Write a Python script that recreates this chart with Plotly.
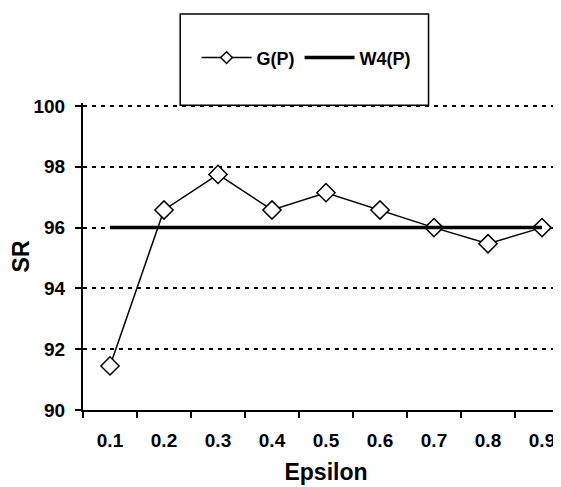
import plotly.graph_objects as go

epsilon = ["0.1", "0.2", "0.3", "0.4", "0.5", "0.6", "0.7", "0.8", "0.9"]
g_p = [91.45, 96.58, 97.75, 96.58, 97.15, 96.58, 96.0, 95.47, 96.0]
w4_p = [96, 96, 96, 96, 96, 96, 96, 96, 96]
y_ticks = [90, 92, 94, 96, 98, 100]

FONT = "Liberation Sans, Arial, sans-serif"

fig = go.Figure()
fig.add_trace(
    go.Scatter(
        name="G(P)",
        x=epsilon,
        y=g_p,
        mode="lines+markers",
        line={"color": "black", "width": 1.5},
        marker={
            "symbol": "diamond",
            "size": 14,
            "color": "white",
            "line": {"color": "black", "width": 1.5},
        },
        legendgroup="g",
        showlegend=False,
    )
)
# legend entry for G(P) with a small diamond, like the original
fig.add_trace(
    go.Scatter(
        name="G(P)",
        x=[None],
        y=[None],
        mode="lines+markers",
        line={"color": "black", "width": 1.5},
        marker={
            "symbol": "diamond",
            "size": 9,
            "color": "white",
            "line": {"color": "black", "width": 1.5},
        },
        legendgroup="g",
    )
)
fig.add_trace(
    go.Scatter(
        name="W4(P)",
        x=epsilon,
        y=w4_p,
        mode="lines",
        line={"color": "black", "width": 3.5},
    )
)

# legend frame (Excel-style box above the plot)
fig.add_shape(
    type="rect",
    xref="paper",
    yref="paper",
    x0=0.2,
    x1=0.711,
    y0=0.993,
    y1=1.29,
    line={"color": "black", "width": 1.5},
    fillcolor="white",
    layer="above",
)

fig.update_layout(
    width=561,
    height=487,
    margin={"l": 75, "r": 0, "t": 95, "b": 85},
    plot_bgcolor="white",
    paper_bgcolor="white",
    font={"family": FONT, "size": 19, "color": "black", "weight": "bold"},
    showlegend=True,
    legend={
        "orientation": "h",
        "x": 0.46,
        "y": 1.147,
        "xanchor": "center",
        "yanchor": "middle",
        "bgcolor": "rgba(0,0,0,0)",
        "font": {"family": FONT, "size": 18, "color": "black", "weight": "bold"},
        "itemwidth": 50,
    },
    xaxis={
        "type": "category",
        "title": {"text": "Epsilon", "standoff": 14},
        "showline": True,
        "linecolor": "black",
        "linewidth": 2,
        "ticks": "outside",
        "tickson": "boundaries",
        "ticklen": 6,
        "tickwidth": 2,
        "tickcolor": "black",
        "ticklabelstandoff": 12,
        "showgrid": False,
        "range": [-0.5, 8.5],
    },
    yaxis={
        "title": {"text": "SR", "standoff": 4},
        "range": [90, 100.1],
        "tickvals": y_ticks,
        "showline": True,
        "linecolor": "black",
        "linewidth": 2,
        "ticks": "outside",
        "ticklen": 6,
        "tickwidth": 1.5,
        "tickcolor": "black",
        "ticklabelstandoff": 6,
        "showgrid": True,
        "gridcolor": "black",
        "gridwidth": 1.5,
        "griddash": "4px,5px",
        "zeroline": False,
    },
)

fig.write_html("out.html")
